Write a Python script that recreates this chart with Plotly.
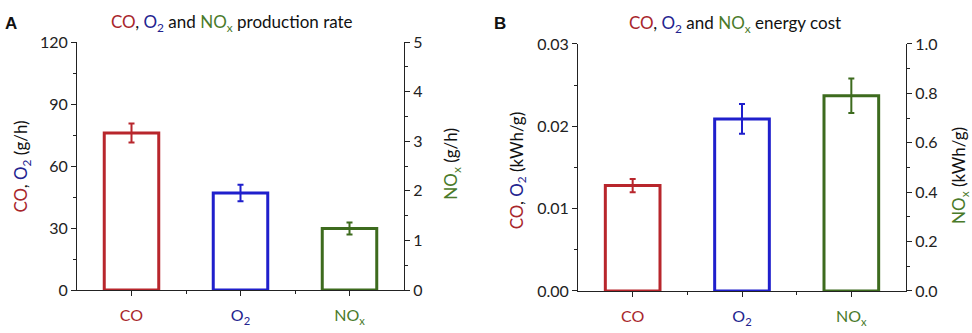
import plotly.graph_objects as go

# Species and their display colours
categories = ["CO", "O<sub>2</sub>", "NO<sub>x</sub>"]
bar_colors = ["#b8262c", "#1f1fcc", "#3d6b1e"]
text_colors = ["#a8262b", "#23238f", "#4a7a2a"]

# Panel A: production rate (CO, O2 in g/h on left axis; NOx in g/h on right axis)
rate_values = [76.0, 47.0, 1.24]
rate_errors = [4.6, 4.0, 0.12]

# Panel B: energy cost (CO, O2 in kWh/g on left axis; NOx in kWh/g on right axis)
cost_values = [0.0128, 0.0209, 0.79]
cost_errors = [0.0008, 0.0018, 0.07]

W, H = 972, 333
FONT = "Lato, 'Open Sans', sans-serif"
TICK_COLOR = "#222222"


def px_x(p):
    return p / W


def px_y(p):
    return 1 - p / H


def colored(i, txt=None):
    return f"<span style='color:{text_colors[i]}'>{txt or categories[i]}</span>"


fig = go.Figure()

panels = [
    dict(vals=rate_values, errs=rate_errors, x="x", yl="y", yr="y2"),
    dict(vals=cost_values, errs=cost_errors, x="x2", yl="y3", yr="y4"),
]
for p in panels:
    for i, cat in enumerate(categories):
        fig.add_trace(go.Bar(
            x=[i], y=[p["vals"][i]], width=0.5,
            xaxis=p["x"], yaxis=p["yr"] if i == 2 else p["yl"],
            marker=dict(color="rgba(255,255,255,0)",
                        line=dict(color=bar_colors[i], width=3)),
            error_y=dict(type="data", array=[p["errs"][i]], visible=True,
                         color=bar_colors[i], thickness=2, width=3),
            showlegend=False,
        ))

ticktext = [colored(i) for i in range(3)]

common_x = dict(range=[-0.5, 2.5], tickvals=[0, 1, 2], ticktext=ticktext,
                showline=True, linecolor="#222", linewidth=1,
                ticks="outside", ticklen=5, tickcolor="#222",
                ticklabelstandoff=6,
                tickfont=dict(family=FONT, size=16),
                minor=dict(tickvals=[0.5, 1.5], ticks="outside", ticklen=3,
                           tickcolor="#222"),
                showgrid=False, zeroline=False, fixedrange=True)

top_x = dict(range=[-0.5, 2.5], tickvals=[0, 1, 2], showticklabels=False,
             side="top", showline=True, linecolor="#222", linewidth=1,
             ticks="inside", ticklen=5, tickcolor="#222",
             minor=dict(tickvals=[0.5, 1.5], ticks="inside", ticklen=3,
                        tickcolor="#222"),
             showgrid=False, zeroline=False)

common_y = dict(showline=True, linecolor="#222", linewidth=1,
                ticks="outside", ticklen=5, tickcolor="#222",
                tickfont=dict(family=FONT, size=16, color=TICK_COLOR),
                showgrid=False, zeroline=False)

domA_x = [px_x(77), px_x(404)]
domA_y = [px_y(297), px_y(34)]
domB_x = [px_x(578), px_x(906)]
domB_y = [px_y(298), px_y(36)]

fig.update_layout(
    width=W, height=H,
    margin=dict(l=0, r=0, t=0, b=0),
    paper_bgcolor="white", plot_bgcolor="white",
    barmode="overlay",
    font=dict(family=FONT, color=TICK_COLOR),
    xaxis=dict(common_x, domain=domA_x, anchor="y"),
    xaxis2=dict(common_x, domain=domB_x, anchor="y3"),
    xaxis3=dict(top_x, domain=domA_x, anchor="y", overlaying="x"),
    xaxis4=dict(top_x, domain=domB_x, anchor="y3", overlaying="x2"),
    yaxis=dict(common_y, domain=domA_y, anchor="x", range=[0, 120],
               tickvals=[0, 30, 60, 90, 120],
               minor=dict(tickvals=[15, 45, 75, 105], ticks="outside",
                          ticklen=3, tickcolor="#222")),
    yaxis2=dict(common_y, domain=domA_y, anchor="x", overlaying="y",
                side="right", range=[0, 5], tickvals=[0, 1, 2, 3, 4, 5],
                minor=dict(tickvals=[0.5, 1.5, 2.5, 3.5, 4.5], ticks="outside",
                           ticklen=3, tickcolor="#222")),
    yaxis3=dict(common_y, domain=domB_y, anchor="x2", range=[0, 0.03],
                tickvals=[0, 0.01, 0.02, 0.03],
                ticktext=["0.00", "0.01", "0.02", "0.03"],
                minor=dict(tickvals=[0.005, 0.015, 0.025], ticks="outside",
                           ticklen=3, tickcolor="#222")),
    yaxis4=dict(common_y, domain=domB_y, anchor="x2", overlaying="y3",
                side="right", range=[0, 1.0],
                tickvals=[0, 0.2, 0.4, 0.6, 0.8, 1.0],
                ticktext=["0.0", "0.2", "0.4", "0.6", "0.8", "1.0"],
                minor=dict(tickvals=[0.1, 0.3, 0.5, 0.7, 0.9], ticks="outside",
                           ticklen=3, tickcolor="#222")),
)

co_o2 = f"{colored(0)}, {colored(1)}"
nox = colored(2)

LETTER_FONT = "'Liberation Sans', Arial, sans-serif"

annotations = [
    # panel letters
    dict(x=px_x(3), y=px_y(14), text="<b>A</b>", xanchor="left",
         font=dict(family=LETTER_FONT, size=17, color="#111")),
    dict(x=px_x(492), y=px_y(14), text="<b>B</b>", xanchor="left",
         font=dict(family=LETTER_FONT, size=17, color="#111")),
    # panel titles
    dict(x=px_x(232), y=px_y(14), text=f"{co_o2} and {nox} production rate"),
    dict(x=px_x(735), y=px_y(15), text=f"{co_o2} and {nox} energy cost"),
    # axis titles
    dict(x=px_x(22), y=px_y(166), text=f"{co_o2} (g/h)", textangle=-90),
    dict(x=px_x(452), y=px_y(163), text=f"{nox} (g/h)", textangle=-90),
    dict(x=px_x(518), y=px_y(170), text=f"{co_o2} (kWh/g)", textangle=-90),
    dict(x=px_x(960), y=px_y(176), text=f"{nox} (kWh/g)", textangle=-90),
]
for a in annotations:
    a.setdefault("xanchor", "center")
    a.setdefault("font", dict(family=FONT, size=17, color="#111"))
    fig.add_annotation(xref="paper", yref="paper", showarrow=False,
                       yanchor="middle", **a)

fig.write_html("out.html")
